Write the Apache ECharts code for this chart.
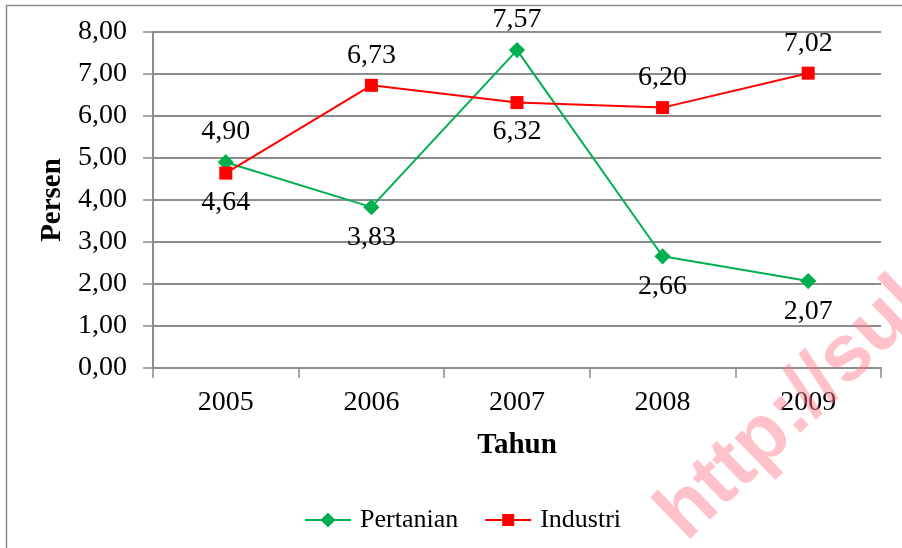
<!DOCTYPE html>
<html>
<head>
<meta charset="utf-8">
<script src="https://cdn.jsdelivr.net/npm/echarts@6/dist/echarts.min.js"></script>
<style>
  html, body { margin: 0; padding: 0; background: #fff; }
  #chart { width: 902px; height: 548px; }
</style>
</head>
<body>
<div id="chart"></div>
<script>
const years = ['2005', '2006', '2007', '2008', '2009'];
const pertanian = [4.90, 3.83, 7.57, 2.66, 2.07];
const industri = [4.64, 6.73, 6.32, 6.20, 7.02];
const pertanianLabelPos = ['top', 'bottom', 'top', 'bottom', 'bottom'];
const industriLabelPos = ['bottom', 'top', 'bottom', 'top', 'top'];

const FONT = '"Liberation Serif", "Times New Roman", serif';
const GRID_GRAY = '#8c8c8c';
const fmt = v => v.toFixed(2).replace('.', ',');

const withLabels = (values, positions) => values.map((v, i) => ({
  value: v,
  label: { position: positions[i] }
}));

const chart = echarts.init(document.getElementById('chart'), null, { renderer: 'canvas' });

const labelStyle = {
  show: true,
  distance: 9,
  color: '#000',
  fontSize: 28,
  fontFamily: FONT,
  formatter: p => fmt(p.value)
};

chart.setOption({
  animation: false,
  backgroundColor: '#fff',
  textStyle: { fontFamily: FONT },
  grid: { left: 153, right: 21, top: 32, bottom: 180 },
  xAxis: {
    type: 'category',
    data: years,
    boundaryGap: true,
    axisLine: { lineStyle: { color: GRID_GRAY, width: 2 } },
    axisTick: { show: true, length: 10, lineStyle: { color: GRID_GRAY, width: 1.5 } },
    axisLabel: { color: '#000', fontSize: 28, fontFamily: FONT, margin: 21 },
    name: 'Tahun',
    nameLocation: 'middle',
    nameGap: 63,
    nameTextStyle: { color: '#000', fontSize: 29, fontWeight: 'bold', fontFamily: FONT }
  },
  yAxis: {
    type: 'value',
    min: 0,
    max: 8,
    interval: 1,
    axisLine: { show: true, lineStyle: { color: GRID_GRAY, width: 2 } },
    axisTick: { show: true, length: 10, lineStyle: { color: GRID_GRAY, width: 1.5 } },
    splitLine: { lineStyle: { color: GRID_GRAY, width: 2 } },
    axisLabel: { color: '#000', fontSize: 28, fontFamily: FONT, margin: 26, formatter: fmt },
    name: 'Persen',
    nameLocation: 'middle',
    nameGap: 83,
    nameRotate: 90,
    nameTextStyle: { color: '#000', fontSize: 29, fontWeight: 'bold', fontFamily: FONT }
  },
  legend: {
    left: 299,
    top: 502,
    itemGap: 26,
    itemWidth: 46,
    itemHeight: 15,
    textStyle: { color: '#000', fontSize: 26, fontFamily: FONT, padding: [0, 0, 0, 4] },
    data: ['Pertanian', 'Industri']
  },
  series: [
    {
      name: 'Pertanian',
      type: 'line',
      data: withLabels(pertanian, pertanianLabelPos),
      color: '#00b050',
      symbol: 'diamond',
      symbolSize: 12,
      lineStyle: { width: 2, color: '#00b050' },
      itemStyle: { color: '#00b050', borderColor: '#00b050', borderWidth: 3 },
      label: labelStyle
    },
    {
      name: 'Industri',
      type: 'line',
      data: withLabels(industri, industriLabelPos),
      color: '#ff0000',
      symbol: 'rect',
      symbolSize: 13,
      lineStyle: { width: 2, color: '#ff0000' },
      itemStyle: { color: '#ff0000' },
      label: labelStyle
    }
  ],
  graphic: [
    {
      type: 'rect',
      shape: { x: 6.5, y: 5.5, width: 910, height: 560 },
      style: { fill: 'none', stroke: '#8c8c8c', lineWidth: 1.5 },
      silent: true,
      z: -1
    },
    {
      type: 'text',
      x: 671,
      y: 527,
      rotation: 44 * Math.PI / 180,
      style: {
        text: 'http://sulut.bps.go.id',
        fill: 'rgba(255, 120, 140, 0.45)',
        font: 'bold 80px "Liberation Sans", Arial, sans-serif',
        textVerticalAlign: 'middle'
      },
      silent: true,
      z: 100
    }
  ]
});
</script>
</body>
</html>
